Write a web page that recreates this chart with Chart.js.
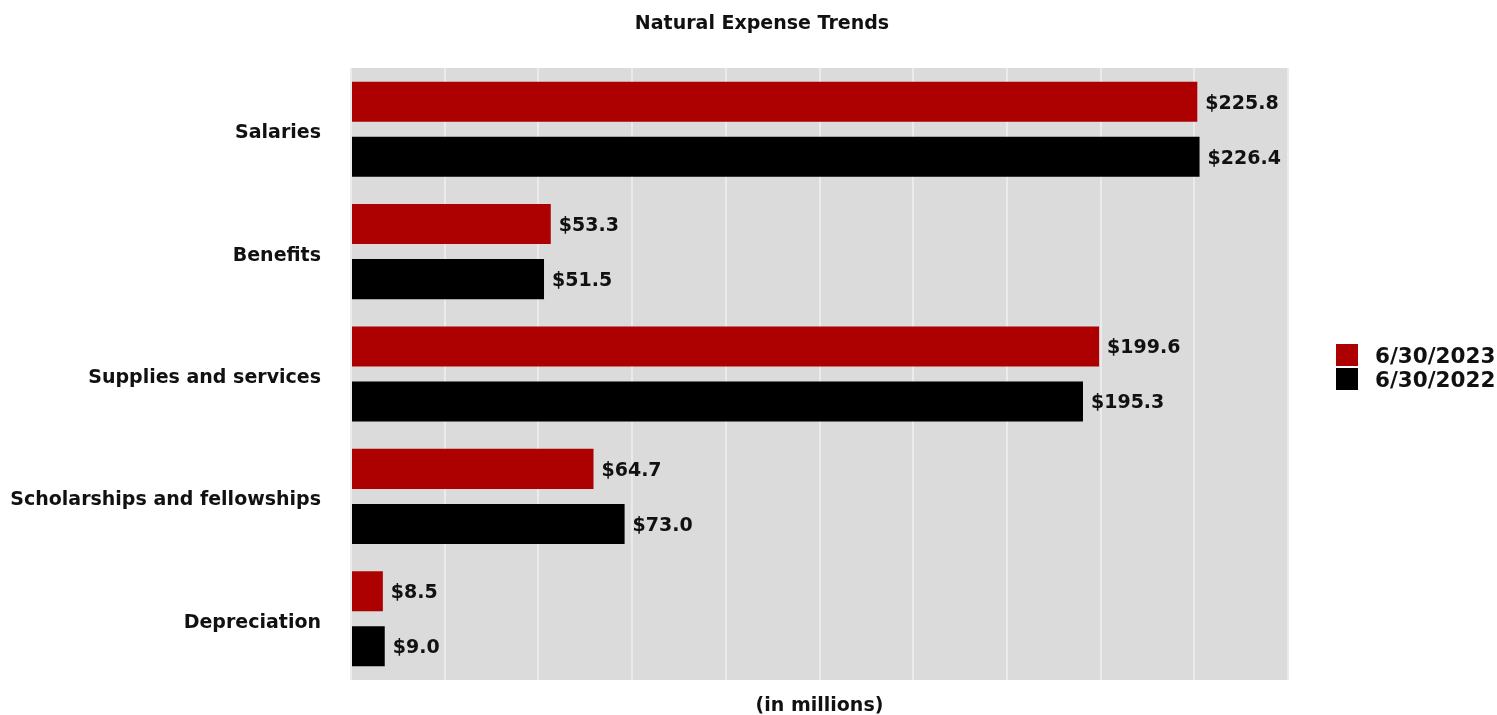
<!DOCTYPE html>
<html>
<head>
<meta charset="utf-8">
<script src="https://cdn.jsdelivr.net/npm/chart.js@4"></script>
<style>
  html, body { margin: 0; padding: 0; background: #fff; }
  #wrap { width: 1497px; height: 715px; }
</style>
</head>
<body>
<div id="wrap"><canvas id="expenseChart"></canvas></div>
<script>
const categories = ['Salaries', 'Benefits', 'Supplies and services', 'Scholarships and fellowships', 'Depreciation'];
const values2023 = [225.8, 53.3, 199.6, 64.7, 8.5];
const values2022 = [226.4, 51.5, 195.3, 73.0, 9.0];
const seriesLabels = ['6/30/2023', '6/30/2022'];
const seriesColors = ['#ad0000', '#000000'];
const axisMax = 250;
const axisStep = 25;

const FONT = "'DejaVu Sans', sans-serif";
const TEXT = '#111';

// gray plot background
const plotBackground = {
    id: 'plotBackground',
    beforeDraw(chart) {
        const { ctx, chartArea: a } = chart;
        ctx.save();
        ctx.fillStyle = '#dbdbdb';
        ctx.fillRect(a.left, a.top, a.right - a.left, a.bottom - a.top);
        ctx.restore();
    }
};

// value labels at bar ends, title, axis title, legend
const extras = {
    id: 'extras',
    afterDatasetsDraw(chart) {
        const ctx = chart.ctx;
        const a = chart.chartArea;
        ctx.save();
        ctx.font = `bold 19px ${FONT}`;
        ctx.fillStyle = TEXT;
        ctx.textAlign = 'left';
        ctx.textBaseline = 'middle';
        chart.data.datasets.forEach((ds, i) => {
            chart.getDatasetMeta(i).data.forEach((bar, j) => {
                ctx.fillText('$' + ds.data[j].toFixed(1), bar.x + 8, bar.y + 2);
            });
        });

        // x axis title
        ctx.textAlign = 'center';
        ctx.fillText('(in millions)', (a.left + a.right) / 2, 706);

        // chart title
        ctx.font = `bold 19px ${FONT}`;
        ctx.fillText('Natural Expense Trends', 762, 24);

        // legend on the right
        ctx.font = `bold 21.5px ${FONT}`;
        ctx.textAlign = 'left';
        seriesLabels.forEach((lbl, i) => {
            const y = 344 + i * 24;
            ctx.fillStyle = seriesColors[i];
            ctx.fillRect(1336, y, 22, 22);
            ctx.fillStyle = TEXT;
            ctx.fillText(lbl, 1375, y + 13);
        });
        ctx.restore();
    }
};

new Chart(document.getElementById('expenseChart'), {
    type: 'bar',
    data: {
        labels: categories,
        datasets: [
            { label: seriesLabels[0], data: values2023, backgroundColor: seriesColors[0] },
            { label: seriesLabels[1], data: values2022, backgroundColor: seriesColors[1] }
        ]
    },
    options: {
        indexAxis: 'y',
        responsive: true,
        maintainAspectRatio: false,
        animation: false,
        categoryPercentage: 0.9,
        barPercentage: 0.727,
        layout: { padding: { top: 68, right: 209, bottom: 35, left: 0 } },
        scales: {
            x: {
                min: 0,
                max: axisMax,
                ticks: { display: false, stepSize: axisStep },
                grid: { color: '#ebebeb', lineWidth: 2, drawTicks: false },
                border: { display: false }
            },
            y: {
                grid: { display: false, drawTicks: false },
                border: { display: false },
                ticks: {
                    padding: 30,
                    labelOffset: 4,
                    color: TEXT,
                    font: { family: FONT, size: 19, weight: 'bold' }
                },
                afterFit(scale) {
                    scale.width = 351;
                    // tick padding would otherwise eat into the plot height
                    scale.paddingTop = 0;
                    scale.paddingBottom = 0;
                }
            }
        },
        plugins: {
            title: { display: false },
            legend: { display: false },
            tooltip: { enabled: false }
        }
    },
    plugins: [plotBackground, extras]
});
</script>
</body>
</html>
